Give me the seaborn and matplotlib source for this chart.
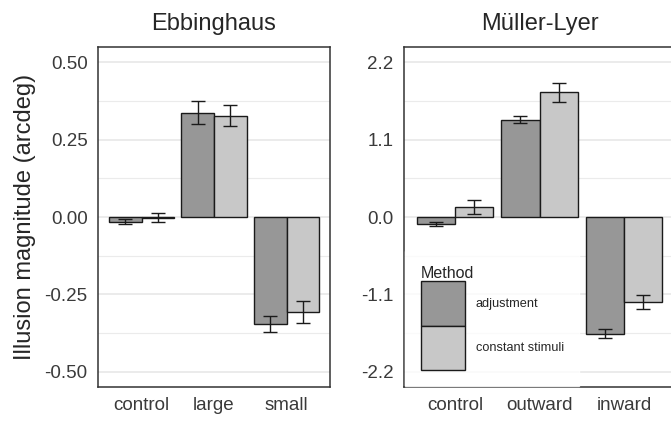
import pandas as pd
import numpy as np
import matplotlib
matplotlib.use('Agg')
import matplotlib.pyplot as plt
import seaborn as sns

# values (mean and standard error per bar)
methods = ['adjustment', 'constant stimuli']
colors = ['#979797', '#c8c8c8']

ebb_conditions = ['control', 'large', 'small']
ebb_adjustment = [-0.015, 0.338, -0.346]
ebb_constant = [-0.002, 0.328, -0.308]
ebb_adjustment_se = [0.008, 0.038, 0.027]
ebb_constant_se = [0.015, 0.035, 0.035]
ebb_ticks = [-0.5, -0.25, 0.0, 0.25, 0.5]
ebb_ticklabels = ['-0.50', '-0.25', '0.00', '0.25', '0.50']

ml_conditions = ['control', 'outward', 'inward']
ml_adjustment = [-0.095, 1.384, -1.665]
ml_constant = [0.142, 1.773, -1.214]
ml_adjustment_se = [0.03, 0.05, 0.064]
ml_constant_se = [0.095, 0.14, 0.1]
ml_ticks = [-2.2, -1.1, 0.0, 1.1, 2.2]
ml_ticklabels = ['-2.2', '-1.1', '0.0', '1.1', '2.2']

sns.set_style('white')
plt.rcParams['font.family'] = ['Liberation Sans', 'DejaVu Sans']


def make_df(conditions, adj, const, adj_se, const_se):
    rows = []
    for i, c in enumerate(conditions):
        rows.append((c, methods[0], adj[i], adj_se[i]))
        rows.append((c, methods[1], const[i], const_se[i]))
    return pd.DataFrame(rows, columns=['condition', 'method', 'magnitude', 'se'])


def draw(ax, df, conditions, ticks, ticklabels, title):
    sns.barplot(data=df, x='condition', y='magnitude', hue='method',
                order=conditions, hue_order=methods, palette=colors,
                width=0.9, gap=0, errorbar=None, edgecolor='#1a1a1a',
                linewidth=1.0, saturation=1, ax=ax, zorder=3)
    # error bars at the bar centres, patches sorted left to right
    bars = sorted([p for p in ax.patches if p.get_width() > 0], key=lambda p: p.get_x())
    bars = bars[:len(df)]
    xs = [p.get_x() + p.get_width() / 2 for p in bars]
    ax.errorbar(xs, df['magnitude'], yerr=df['se'], fmt='none', ecolor='#1a1a1a',
                elinewidth=1.0, capsize=5, capthick=1.0, zorder=4)
    lim = ticks[-1] * 1.1
    ax.set_ylim(-lim, lim)
    ax.set_xlim(-0.6, len(conditions) - 0.4)
    ax.set_yticks(ticks, ticklabels)
    minor = [(ticks[i] + ticks[i + 1]) / 2 for i in range(len(ticks) - 1)]
    ax.set_yticks(minor, minor=True)
    ax.grid(axis='y', which='major', color='#ebebeb', linewidth=1.4, zorder=0)
    ax.grid(axis='y', which='minor', color='#ebebeb', linewidth=0.8, zorder=0)
    ax.set_axisbelow(True)
    ax.tick_params(axis='both', which='major', labelsize=13.5, labelcolor='#3a3a3a',
                   length=4, width=1.2, color='#333333')
    ax.tick_params(axis='y', which='minor', length=0)
    for s in ax.spines.values():
        s.set_color('#333333')
        s.set_linewidth(1.1)
    ax.set_xlabel('')
    ax.set_ylabel('')
    ax.set_title(title, fontsize=17, pad=12)


fig = plt.figure(figsize=(6.71, 4.22), dpi=100)
ax1 = fig.add_axes([98 / 671, 35 / 422, 232 / 671, 340 / 422])
ax2 = fig.add_axes([404 / 671, 35 / 422, 271 / 671, 340 / 422])

ebb = make_df(ebb_conditions, ebb_adjustment, ebb_constant, ebb_adjustment_se, ebb_constant_se)
ml = make_df(ml_conditions, ml_adjustment, ml_constant, ml_adjustment_se, ml_constant_se)

draw(ax1, ebb, ebb_conditions, ebb_ticks, ebb_ticklabels, 'Ebbinghaus')
draw(ax2, ml, ml_conditions, ml_ticks, ml_ticklabels, 'Müller-Lyer')
ax1.legend_.remove()
ax1.set_ylabel('Illusion magnitude (arcdeg)', fontsize=17, labelpad=6)

handles, labels = ax2.get_legend_handles_labels()
ax2.legend_.remove()
leg = ax2.legend(handles, labels, title='Method', loc='lower left', bbox_to_anchor=(0, 0),
                 borderaxespad=0.1, borderpad=1.2, fontsize=9.2, title_fontsize=11.5,
                 handlelength=3.5, handleheight=5.0, labelspacing=0, handletextpad=0.8,
                 frameon=True, fancybox=False, alignment='left')
leg.get_frame().set_facecolor('white')
leg.get_frame().set_edgecolor('white')
leg.set_zorder(5)

fig.savefig('out.png', dpi=100)
